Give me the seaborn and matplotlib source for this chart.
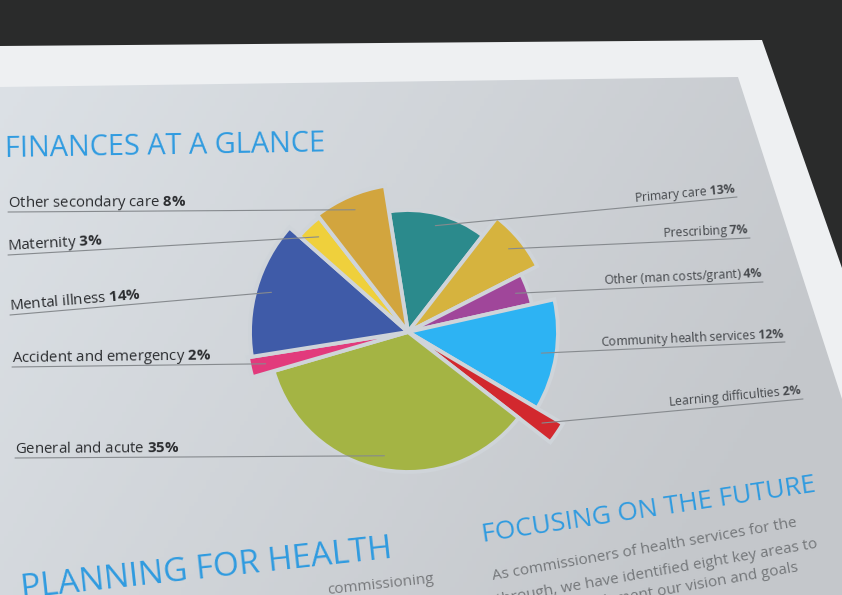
import numpy as np
import matplotlib
matplotlib.use("Agg")
import matplotlib.pyplot as plt
from matplotlib.patches import Polygon
from matplotlib.colors import LinearSegmentedColormap
import seaborn as sns

# Gia tri doc tu bieu do (theo chieu kim dong ho, bat dau tu dinh)
categories = ["Primary care", "Prescribing", "Other (man costs/grant)",
              "Community health services", "Learning difficulties",
              "General and acute", "Accident and emergency",
              "Mental illness", "Maternity", "Other secondary care"]
shares = [13, 7, 4, 12, 2, 35, 2, 14, 3, 8]
# moi lat cat co do dai rieng
wedge_len = [122, 145, 127, 150, 180, 140, 162, 158, 145, 148]
slice_colors = ["#2b8a8c", "#d6b33e", "#a0469a", "#2db3f3", "#d2282e",
                "#a4b444", "#e23a7c", "#3f5ba8", "#efd03c", "#d2a53e"]

# bo cuc nhan: dau ngoai cua duong dan (pixel, y tinh tu tren xuong)
label_side = ["right"] * 5 + ["left"] * 5
label_end = [(737, 197), (750, 238), (763, 282), (785, 342), (803, 399),
             (15, 458), (12, 367), (10, 315), (8, 255), (8, 212)]

W, H = 842, 595
BLUE = "#2f9be0"
PAPER = "#cfd4d9"

sns.set_theme(style="white")
plt.rcParams["font.family"] = ["Open Sans", "DejaVu Sans"]
plt.rcParams["mathtext.fontset"] = "custom"
plt.rcParams["mathtext.rm"] = "Open Sans"
plt.rcParams["mathtext.bf"] = "Open Sans:bold"

fig = plt.figure(figsize=(W / 100, H / 100), dpi=100, facecolor="#2a2b2b")

# nen: to giay + vung in mau xam
bg = fig.add_axes([0, 0, 1, 1])
bg.set_axis_off()
page = Polygon([(0, 46), (762, 40), (842, 268), (842, H), (0, H)],
               closed=True, fc="#eef0f2", ec="none", zorder=0.5)
bg.add_patch(page)
printed = Polygon([(0, 87), (738, 77), (842, 399), (842, H), (0, H)],
                  closed=True, fc="none", ec="none")
bg.add_patch(printed)
xx, yy = np.meshgrid(np.linspace(0, 1, 200), np.linspace(0, 1, 140))
shade = np.clip(0.8 * xx + 0.35 * (1 - yy), 0, 1)
paper_cmap = LinearSegmentedColormap.from_list("paper", ["#dde2e7", "#c4c7cb"])
im = bg.imshow(shade, extent=(0, W, 0, H), origin="upper", cmap=paper_cmap,
               aspect="auto", zorder=1)
im.set_clip_path(printed)
bg.set_xlim(0, W)
bg.set_ylim(H, 0)

# banh
cx, cy, R = 408, 332, 190
pax = fig.add_axes([(cx - R) / W, (H - cy - R) / H, 2 * R / W, 2 * R / H],
                   projection="polar")
pax.set_theta_zero_location("N")
pax.set_theta_direction(-1)
pax.set_ylim(0, R)
pax.set_axis_off()

start = -9
edges = start + 3.6 * np.concatenate([[0], np.cumsum(shares)])
mids = np.radians((edges[:-1] + edges[1:]) / 2)
widths = np.radians(3.6 * np.array(shares))
pax.bar(mids, wedge_len, width=widths, bottom=0,
        color=sns.color_palette(slice_colors), edgecolor=PAPER, linewidth=2.8,
        zorder=2)

# nhan + duong dan (ve tren banh)
to_bg = bg.transData.inverted()
for i, cat in enumerate(categories):
    anchor_disp = pax.transData.transform((mids[i], 0.9 * wedge_len[i]))
    ex, ey = to_bg.transform(anchor_disp)
    ox, oy = label_end[i]
    pax.plot([ox, ex], [oy, ey], color="#868a8e", lw=0.8, zorder=5,
             transform=bg.transData, clip_on=False)
    outer_disp = bg.transData.transform((ox, oy))
    if label_side[i] == "left":
        d = anchor_disp - outer_disp
        ha, fs, col = "left", 10.8, "#2b2d30"
    else:
        d = outer_disp - anchor_disp
        ha, fs, col = "right", 8.8, "#474a4e"
    rot = np.degrees(np.arctan2(d[1], d[0]))
    nx, ny = -np.sin(np.radians(rot)) * 3.5, np.cos(np.radians(rot)) * 3.5
    bg.annotate(f"{cat} $\\mathbf{{{shares[i]}\\%}}$", xy=(ox, oy),
                xytext=(nx, ny), textcoords="offset points", ha=ha,
                va="baseline", rotation=rot, rotation_mode="anchor",
                fontsize=fs, color=col, zorder=4)

# tieu de va phan chu cua trang
bg.text(5, 157, "FINANCES AT A GLANCE", fontsize=20.8, color=BLUE,
        rotation=1, rotation_mode="anchor", va="baseline", zorder=4)
bg.text(22, 598, "PLANNING FOR HEALTH", fontsize=24, color=BLUE,
        rotation=6.2, rotation_mode="anchor", va="baseline", zorder=4)
bg.text(328, 594, "commissioning", fontsize=11, color="#77797c",
        rotation=6.2, rotation_mode="anchor", va="baseline", zorder=4)
bg.text(483, 542, "FOCUSING ON THE FUTURE", fontsize=18.9, color=BLUE,
        rotation=8.6, rotation_mode="anchor", va="baseline", zorder=4)
body = ["As commissioners of health services for the",
        "through, we have identified eight key areas to",
        "implement our vision and goals"]
body_start = [(493, 580), (497, 604), (578, 610)]
for line, (bx, by) in zip(body, body_start):
    bg.text(bx, by, line, fontsize=11, color="#74777a", rotation=10,
            rotation_mode="anchor", va="baseline", zorder=4)

fig.savefig("out.png", dpi=100, facecolor=fig.get_facecolor())
